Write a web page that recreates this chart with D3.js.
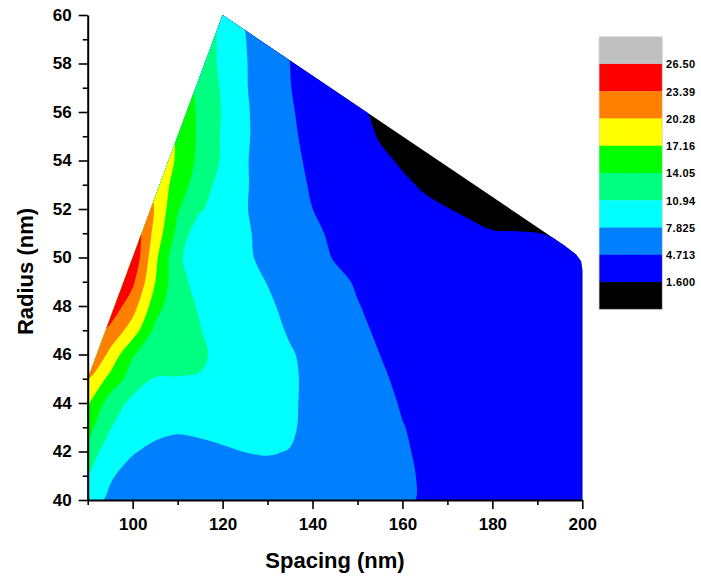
<!DOCTYPE html>
<html><head><meta charset="utf-8">
<script src="https://cdn.jsdelivr.net/npm/d3@7"></script>
<style>
body{margin:0;background:#fff}
svg{display:block}
text{font-family:"Liberation Sans",Arial,sans-serif;font-weight:bold;fill:#000}
</style>
</head><body>
<svg id="chart" width="701" height="580"></svg>
<script>
// ---- data ----
const spacingGrid = [90,95,100,105,110,115,120,125,130,135,140,145,150,155,160,165,170,175,180,185,190,195,200];
const radiusGrid = [40,41,42,43,44,45,46,47,48,49,50,51,52,53,54,55,56,57,58,59,60];
// z values (one row per radius, one column per spacing)
const zByRadius = [
 [8.6,7.5,7.2,7.0,6.8,6.6,6.4,6.2,6.0,5.8,5.6,5.35,5.1,4.95,4.8,4.65,4.45,4.25,4.05,3.85,3.65,3.45,3.25],
 [10.73,8.0,7.2,7.0,7.0,7.0,7.0,7.0,7.0,6.8,6.4,6.0,5.6,5.25,4.85,4.62,4.4,4.2,3.95,3.75,3.55,3.35,3.15],
 [12.9,9.13,7.95,7.45,7.4,7.5,7.65,7.85,8.0,7.75,7.1,6.5,5.9,5.4,4.85,4.5,4.25,4.0,3.8,3.6,3.4,3.2,3.0],
 [15.14,11.1,8.9,8.3,8.0,8.1,8.3,8.7,8.8,8.2,7.0,6.2,5.6,5.2,4.76,4.4,4.1,3.85,3.65,3.45,3.25,3.05,2.85],
 [17.56,12.6,10.2,9.6,9.55,9.6,9.8,9.7,9.5,8.3,7.0,6.3,5.7,5.1,4.6,4.25,3.95,3.7,3.5,3.3,3.1,2.9,2.7],
 [20.2,16.3,12.5,10.85,10.85,10.8,10.3,9.9,9.5,8.3,7.1,6.4,5.6,4.9,4.45,4.1,3.8,3.55,3.3,3.1,2.9,2.7,2.55],
 [24.5,19.4,14.3,12.3,11.7,11.3,10.3,9.8,9.2,8.1,7.0,6.3,5.2,4.71,4.3,3.95,3.65,3.4,3.15,2.95,2.75,2.55,2.4],
 [25.5,22.7,18.8,13.3,11.8,11.0,10.2,9.5,8.8,7.5,6.8,6.0,5.0,4.5,4.1,3.75,3.45,3.2,2.95,2.75,2.55,2.35,2.25],
 [29,25.5,21.6,15.5,11.5,10.8,9.6,9.0,8.2,7.2,6.4,5.6,4.78,4.3,3.9,3.55,3.25,3.0,2.75,2.55,2.35,2.2,2.1],
 [31,28,24.0,17.2,11.9,9.9,9.0,8.6,7.75,6.9,6.0,5.1,4.55,4.1,3.7,3.3,3.0,2.75,2.5,2.3,2.15,2.0,1.95],
 [32,29,26.0,17.9,11.6,8.8,8.4,8.1,7.4,6.6,5.3,4.6,4.1,3.6,3.15,2.8,2.5,2.25,2.05,1.9,1.8,1.75,1.75],
 [30,28,26,19.2,13.2,8.9,8.5,8.0,7.4,6.4,5.1,4.35,3.7,3.1,2.65,2.3,2.0,1.8,1.63,1.62,1.605,1.55,1.45],
 [30,28,26,20.0,14.3,11.3,9.3,7.95,7.0,6.0,4.72,4.0,3.3,2.7,2.2,1.85,1.62,1.45,1.40,1.38,1.35,1.3,1.3],
 [28,26,24,19.5,15.8,12.3,9.9,8.0,7.0,5.9,4.35,3.5,2.75,2.2,1.8,1.45,1.29,1.2,1.15,1.15,1.15,1.15,1.15],
 [26,24,22.5,20.5,16.6,13.2,10.6,8.0,6.9,5.6,4.0,3.1,2.4,1.85,1.45,1.2,1.1,1.05,1.05,1.05,1.05,1.05,1.05],
 [25,23,22,20,16.8,13.4,10.6,8.1,6.9,5.3,3.7,2.8,2.1,1.5,1.2,1.0,1.0,1.0,1.0,1.0,1.0,1.0,1.0],
 [23,22,21,19.5,17.0,13.3,10.75,8.1,6.8,5.05,3.5,2.6,1.8,1.35,1.0,1.0,1.0,1.0,1.0,1.0,1.0,1.0,1.0],
 [22,21,20,18.5,16.0,13.2,10.6,8.0,6.6,4.8,3.3,2.4,1.5,1.2,1.0,1.0,1.0,1.0,1.0,1.0,1.0,1.0,1.0],
 [21,20,19,17.5,15.5,12.5,10.4,8.0,6.4,4.7,3.1,2.2,1.4,1.0,1.0,1.0,1.0,1.0,1.0,1.0,1.0,1.0,1.0],
 [20,19,18,16.5,15.0,13.0,10.2,7.9,6.2,4.6,2.9,2.0,1.3,1.0,1.0,1.0,1.0,1.0,1.0,1.0,1.0,1.0,1.0],
 [19,18,17,16,14.5,13,10.0,7.7,6.0,4.5,2.8,1.9,1.2,1.0,1.0,1.0,1.0,1.0,1.0,1.0,1.0,1.0,1.0]
];
const levels = [1.600, 4.713, 7.825, 10.94, 14.05, 17.16, 20.28, 23.39, 26.50];
const levelLabels = ["1.600","4.713","7.825","10.94","14.05","17.16","20.28","23.39","26.50"];
const colors = ["#000000","#0000FF","#0080FF","#00FFFF","#00FF80","#00FF00","#FFFF00","#FF8000","#FF0000","#C0C0C0"];
// measured data hull (spacing, radius)
const hullSpacing = [90, 90, 120, 196, 198.6, 199.7, 200, 200];
const hullRadius  = [40, 45, 60, 50.5, 50.12, 49.85, 49.5, 40];
const xMajor = [100,120,140,160,180,200], xMinor = [90,110,130,150,170,190];
const yMajor = [40,42,44,46,48,50,52,54,56,58,60], yMinor = [41,43,45,47,49,51,53,55,57,59];

// ---- drawing ----
const svg = d3.select("#chart");
const x = d3.scaleLinear().domain([90,200]).range([87.7,582.3]);
const y = d3.scaleLinear().domain([40,60]).range([500,15]);

const nx = spacingGrid.length, ny = radiusGrid.length;
const ds = spacingGrid[1]-spacingGrid[0], dr = radiusGrid[1]-radiusGrid[0];
const values = zByRadius.flat();
const allThresholds = [d3.min(values) - 1].concat(levels);
const contours = d3.contours().size([nx, ny]).thresholds(allThresholds)(values);

// grid coordinate -> pixel
const gx2px = gx => x(spacingGrid[0] + (gx - 0.5) * ds);
const gy2px = gy => y(radiusGrid[0] + (gy - 0.5) * dr);
const ringLine = d3.line().curve(d3.curveCatmullRomClosed.alpha(0.5));
function contourPath(mp) {
  let d = "";
  mp.coordinates.forEach(poly => {
    poly.forEach(ring => {
      const raw = ring.slice(0, -1).map(p => [gx2px(p[0]), gy2px(p[1])]);
      const pts = [];
      raw.forEach(p => {
        const q = pts[pts.length - 1];
        if (!q || Math.hypot(p[0]-q[0], p[1]-q[1]) > 4) pts.push(p);
      });
      if (pts.length > 2) d += ringLine(pts);
    });
  });
  return d;
}

const hullPts = hullSpacing.map((s,i) => [x(s), y(hullRadius[i])]);
svg.append("defs").append("clipPath").attr("id","hull")
  .append("path").attr("d", d3.line()(hullPts) + "Z");

svg.append("g").attr("clip-path","url(#hull)")
  .selectAll("path").data(contours).join("path")
  .attr("d", contourPath)
  .attr("fill", (d,i) => colors[i])
  .attr("stroke", "none");

// axes
function styleAxis(g){
  g.select(".domain").attr("stroke-width",2);
  g.selectAll(".tick line").attr("stroke-width",1.6);
  g.selectAll("text").attr("font-size",17).attr("font-weight","bold");
  g.attr("font-family",null).attr("font-size",null);
}
svg.append("g").attr("transform","translate(0,500)")
  .call(d3.axisBottom(x).tickValues(xMinor).tickSize(5).tickSizeOuter(0).tickFormat(""))
  .call(g=>{g.select(".domain").remove(); g.selectAll(".tick line").attr("stroke-width",1.6);});
svg.append("g").attr("transform","translate(87.7,0)")
  .call(d3.axisLeft(y).tickValues(yMinor).tickSize(5).tickSizeOuter(0).tickFormat(""))
  .call(g=>{g.select(".domain").remove(); g.selectAll(".tick line").attr("stroke-width",1.6);});
svg.append("g").attr("transform","translate(0,500)")
  .call(d3.axisBottom(x).tickValues(xMajor).tickSize(9).tickSizeOuter(0).tickPadding(9).tickFormat(d3.format("d")))
  .call(styleAxis);
svg.append("g").attr("transform","translate(87.7,0)")
  .call(d3.axisLeft(y).tickValues(yMajor).tickSize(9).tickSizeOuter(0).tickPadding(7).tickFormat(d3.format("d")))
  .call(styleAxis);

// axis titles
svg.append("text").attr("x", 335).attr("y", 568).attr("text-anchor","middle")
  .attr("font-size",22).text("Spacing (nm)");
svg.append("text").attr("transform","translate(33,271.5) rotate(-90)").attr("text-anchor","middle")
  .attr("font-size",22).text("Radius (nm)");

// legend
const bandH = 27.26, legTop = 36.7, legX = 599, legW = 63.3;
const legendColors = colors.slice().reverse();
const leg = svg.append("g");
leg.selectAll("rect").data(legendColors).join("rect")
  .attr("x", legX).attr("y", (d,i) => legTop + i*bandH)
  .attr("width", legW).attr("height", bandH + 0.3)
  .attr("fill", d => d);
leg.append("rect").attr("x",legX).attr("y",legTop).attr("width",legW).attr("height",bandH*colors.length)
  .attr("fill","none").attr("stroke","#d8d8d8").attr("stroke-width",0.8);
leg.selectAll("text").data(levelLabels).join("text")
  .attr("x", 666).attr("y", (d,i) => legTop + (levels.length - i)*bandH + 1.5)
  .attr("dominant-baseline","middle").attr("font-size",11).attr("letter-spacing",0.4)
  .text(d => d);
</script>
</body></html>
